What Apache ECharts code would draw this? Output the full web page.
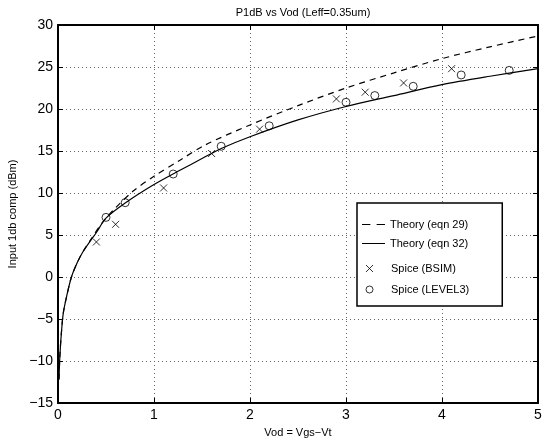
<!DOCTYPE html>
<html>
<head>
<meta charset="utf-8">
<script src="https://cdn.jsdelivr.net/npm/echarts@6/dist/echarts.min.js"></script>
<style>html,body{margin:0;padding:0;background:#fff}#c{width:547px;height:439px}</style>
</head>
<body>
<div id="c"></div>
<script>
// Theory (eqn 29) dashed curve
const vodEqn29 = [0.01, 0.02, 0.035, 0.055, 0.09, 0.14, 0.2, 0.26, 0.35, 0.45, 0.58, 0.78, 1.0, 1.27, 1.53, 2.0, 2.5, 3.0, 3.5, 4.0, 4.5, 5.0];
const p1dbEqn29 = [-12.2, -9.3, -6.7, -4.3, -2.3, 0.0, 1.7, 3.0, 4.6, 6.3, 8.0, 10.2, 12.0, 13.9, 15.7, 18.1, 20.4, 22.5, 24.3, 26.0, 27.4, 28.7];
// Theory (eqn 32) solid curve
const vodEqn32 = [0.01, 0.02, 0.035, 0.055, 0.09, 0.14, 0.2, 0.26, 0.35, 0.4, 0.5, 0.7, 1.0, 1.27, 1.5, 1.7, 2.0, 2.5, 3.0, 3.5, 4.0, 4.5, 5.0];
const p1dbEqn32 = [-12.2, -9.3, -6.7, -4.3, -2.3, 0.0, 1.7, 3.0, 4.5, 5.3, 7.0, 8.8, 11.0, 12.7, 14.1, 15.3, 16.7, 18.7, 20.3, 21.6, 22.9, 23.9, 24.8];
// Spice (BSIM) crosses
const vodBsim = [0.4, 0.6, 1.1, 1.6, 2.1, 2.9, 3.2, 3.6, 4.1];
const p1dbBsim = [4.17, 6.27, 10.6, 14.7, 17.6, 21.2, 22.0, 23.1, 24.8];
// Spice (LEVEL3) circles
const vodLevel3 = [0.5, 0.7, 1.2, 1.7, 2.2, 3.0, 3.3, 3.7, 4.2, 4.7];
const p1dbLevel3 = [7.1, 8.85, 12.26, 15.56, 18.0, 20.8, 21.6, 22.7, 24.05, 24.6];

const seriesNames = ['Theory (eqn 29)', 'Theory (eqn 32)', 'Spice (BSIM)', 'Spice (LEVEL3)'];
const titleText = 'P1dB vs Vod (Leff=0.35um)';
const xName = 'Vod = Vgs\u2212Vt';
const yName = 'Input 1db comp (dBm)';

const zip = (xs, ys) => xs.map((x, i) => [x, ys[i]]);
const FONT = 'Liberation Sans, Arial, Helvetica, sans-serif';
const minus = v => String(v).replace('-', '\u2212');
const crossPath = 'path://M0,0L10,10M10,0L0,10';
const dashIcon = 'path://M0,0H8V1H0ZM14,0H22V1H14Z';
const solidIcon = 'path://M0,0H23V1H0Z';

const chart = echarts.init(document.getElementById('c'), null, {renderer: 'canvas'});
const gridLine = {show: true, lineStyle: {color: '#666', type: [1, 3], width: 1}};
const axisLine = {show: true, onZero: false, lineStyle: {color: '#000', width: 2}};
const tickIn = {show: true, inside: true, length: 5, lineStyle: {color: '#000', width: 1}};
const legendText = {fontFamily: FONT, fontSize: 11, color: '#000'};
const markerStyle = {color: 'rgba(0,0,0,0)', borderColor: '#000', borderWidth: 1};

chart.setOption({
  animation: false,
  backgroundColor: '#fff',
  title: {
    text: titleText, left: 298, top: 2, textAlign: 'center',
    textStyle: {fontFamily: FONT, fontSize: 11, fontWeight: 'normal', color: '#000'}
  },
  grid: {left: 58, right: 9, top: 25, bottom: 36, containLabel: false, outerBoundsMode: 'none'},
  legend: [{
    orient: 'vertical', left: 357, top: 203,
    data: [
      {name: seriesNames[0], icon: dashIcon, itemStyle: {color: '#000'}},
      {name: seriesNames[1], icon: solidIcon, itemStyle: {color: '#000'}}
    ],
    itemWidth: 23, itemHeight: 14, itemGap: 8,
    padding: [16, 34, 57, 5],
    borderColor: '#000', borderWidth: 1.5, backgroundColor: '#fff',
    textStyle: legendText, z: 10
  }, {
    orient: 'vertical', left: 365.5, top: 263,
    data: [{name: seriesNames[2], itemStyle: markerStyle}],
    itemWidth: 7, itemHeight: 7, padding: 0,
    textStyle: Object.assign({padding: [0, 0, 0, 13]}, legendText), z: 11
  }, {
    orient: 'vertical', left: 365.5, top: 284,
    data: [{name: seriesNames[3], itemStyle: markerStyle}],
    itemWidth: 7, itemHeight: 7, padding: 0,
    textStyle: Object.assign({padding: [0, 0, 0, 13]}, legendText), z: 11
  }],
  xAxis: [{
    type: 'value', min: 0, max: 5, interval: 1, position: 'bottom',
    name: xName, nameLocation: 'middle', nameGap: 24,
    nameTextStyle: {fontFamily: FONT, fontSize: 11, color: '#000'},
    axisLine: axisLine, axisTick: tickIn, splitLine: gridLine,
    axisLabel: {fontFamily: FONT, fontSize: 14, color: '#000', margin: 5, formatter: minus}
  }, {
    type: 'value', min: 0, max: 5, interval: 1, position: 'top',
    axisLine: axisLine, axisTick: tickIn, splitLine: {show: false}, axisLabel: {show: false}
  }],
  yAxis: [{
    type: 'value', min: -15, max: 30, interval: 5, position: 'left',
    name: yName, nameLocation: 'middle', nameGap: 40,
    nameTextStyle: {fontFamily: FONT, fontSize: 11, color: '#000'},
    axisLine: axisLine, axisTick: tickIn, splitLine: gridLine,
    axisLabel: {fontFamily: FONT, fontSize: 14, color: '#000', margin: 5, formatter: minus}
  }, {
    type: 'value', min: -15, max: 30, interval: 5, position: 'right',
    axisLine: axisLine, axisTick: tickIn, splitLine: {show: false}, axisLabel: {show: false}
  }],
  series: [{
    name: seriesNames[0], type: 'line', smooth: 0.3, symbol: 'none',
    data: zip(vodEqn29, p1dbEqn29),
    lineStyle: {color: '#000', width: 1.2, type: [6, 5]}, itemStyle: {color: '#000'}, z: 3
  }, {
    name: seriesNames[1], type: 'line', smooth: 0.3, symbol: 'none',
    data: zip(vodEqn32, p1dbEqn32),
    lineStyle: {color: '#000', width: 1.2, type: 'solid'}, itemStyle: {color: '#000'}, z: 3
  }, {
    name: seriesNames[2], type: 'scatter', symbol: crossPath, symbolSize: 7,
    data: zip(vodBsim, p1dbBsim),
    itemStyle: markerStyle, z: 4
  }, {
    name: seriesNames[3], type: 'scatter', symbol: 'circle', symbolSize: 8,
    data: zip(vodLevel3, p1dbLevel3),
    itemStyle: markerStyle, z: 4
  }]
});
</script>
</body>
</html>
